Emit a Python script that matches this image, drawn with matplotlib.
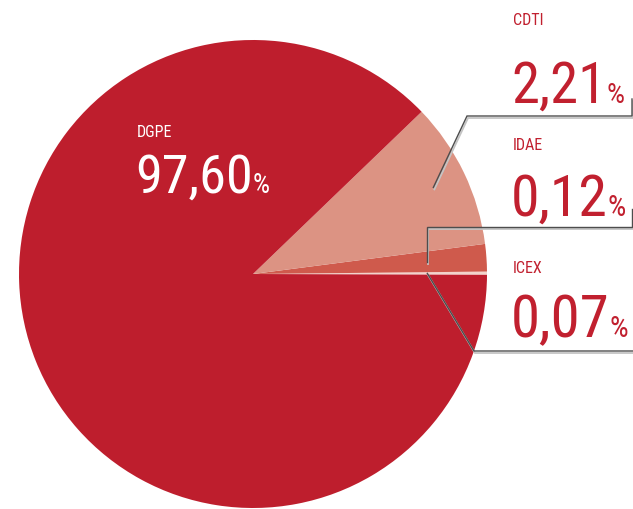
import matplotlib
matplotlib.use('Agg')
import matplotlib.pyplot as plt
import numpy as np
from matplotlib import font_manager as fm

# data
names = ['DGPE', 'CDTI', 'IDAE', 'ICEX']
shares = ['97,60', '2,21', '0,12', '0,07']
# angular size of each wedge as it is drawn in the picture (degrees)
slice_deg = [315.9, 36.5, 6.8, 0.8]
colors = ['#be1e2d', '#dc9383', '#cf5a4c', '#f2d4cc']

W, H = 633, 510
RED = '#c1202f'
LINE = '#4d4d4d'
SHADOW = '#c4c4c4'


def pick_font():
    # the original uses a very narrow display face, take the narrowest we have
    for fam, st in [('Liberation Sans Narrow', 'normal'), ('Roboto Condensed', 'normal'),
                    ('Open Sans Condensed', 'normal')]:
        try:
            fm.findfont(fm.FontProperties(family=fam, stretch=st), fallback_to_default=False)
            return fam, st
        except Exception:
            pass
    f = fm.findfont(fm.FontProperties(family='DejaVu Sans', stretch='condensed'))
    if 'Condensed' in f:
        return 'DejaVu Sans', 'condensed'
    return 'DejaVu Sans', 'normal'


FAM, STRETCH = pick_font()

fig = plt.figure(figsize=(W / 100, H / 100), dpi=100)
ax = fig.add_axes([0, 0, 1, 1])

cx, cy, R = 253, H - 275, 234
start = -0.2
# counterclockwise from the 3 o'clock line: ICEX, IDAE, CDTI, DGPE
ax.pie(slice_deg[::-1], colors=colors[::-1], startangle=start, center=(cx, cy), radius=R,
       frame=True, wedgeprops=dict(linewidth=0))
ax.set_xlim(0, W)
ax.set_ylim(0, H)
ax.set_aspect('equal')
ax.axis('off')

cum = np.cumsum([0] + slice_deg[::-1])
mids = dict(zip(names[::-1], start + (cum[:-1] + cum[1:]) / 2))


def anchor(name, frac):
    a = np.deg2rad(mids[name])
    return cx + frac * R * np.cos(a), cy + frac * R * np.sin(a)


def leader(pts):
    xs = np.array([p[0] for p in pts])
    ys = np.array([p[1] for p in pts])
    ax.plot(xs + 1, ys - 2, color=SHADOW, lw=1.3, solid_joinstyle='miter', zorder=3)
    ax.plot(xs, ys, color=LINE, lw=1.0, solid_joinstyle='miter', zorder=4)


p = anchor('CDTI', 0.855)
leader([p, (467, H - 117), (632, H - 117), (632, H - 100)])
p = anchor('IDAE', 0.745)
leader([p, (p[0], H - 228), (632, H - 228), (632, H - 210)])
p = anchor('ICEX', 0.745)
leader([p, (474, H - 352), (633, H - 352)])

fig.canvas.draw()
rend = fig.canvas.get_renderer()

# label layout: (name, x, name baseline, number baseline, colour, target width of number)
layout = [
    ('DGPE', 137, 137, 193, 'white', 118),
    ('CDTI', 513, 25, 103, RED, 95),
    ('IDAE', 513, 150, 216, RED, 97),
    ('ICEX', 513, 273, 337, RED, 99),
]
for name, x, yn, yv, col, tw in layout:
    val = shares[names.index(name)]
    ax.text(x, H - yn, name, color=col, fontsize=11.5, family=FAM, stretch=STRETCH,
            ha='left', va='baseline', zorder=5)
    t = ax.text(x - 2, H - yv, val, color=col, fontsize=40, family=FAM, stretch=STRETCH,
                ha='left', va='baseline', zorder=5)
    w = t.get_window_extent(rend).width
    size = min(40 * tw / w, 48)
    t.set_fontsize(size)
    fig.canvas.draw()
    bb = t.get_window_extent(rend)
    ax.text(bb.x1, H - yv, '%', color=col, fontsize=size * 0.5, family=FAM,
            stretch=STRETCH, ha='left', va='baseline', zorder=5)

fig.savefig('out.png', dpi=100)
